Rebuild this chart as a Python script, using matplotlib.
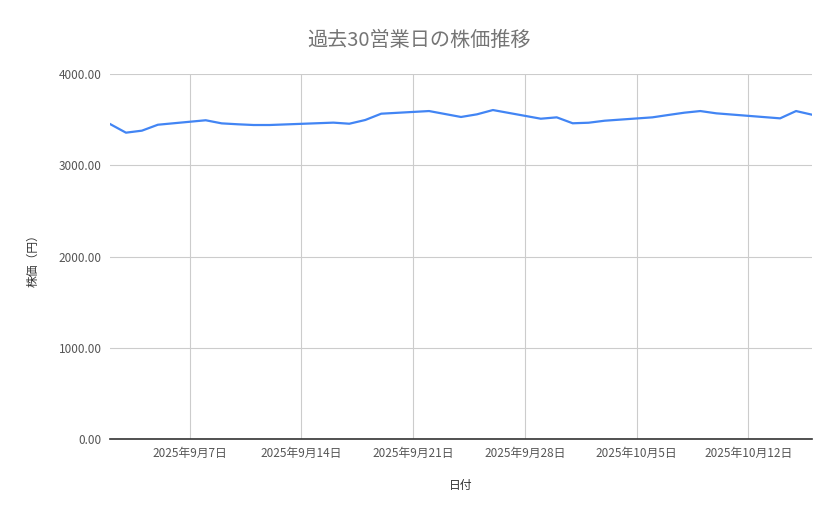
import matplotlib
matplotlib.use("Agg")
import matplotlib.pyplot as plt
import matplotlib.dates as mdates
from matplotlib.ticker import FuncFormatter
import datetime as dt

plt.rcParams['font.family'] = ['Noto Sans CJK JP', 'DejaVu Sans']

dates = ["2025-09-02", "2025-09-03", "2025-09-04", "2025-09-05",
         "2025-09-08", "2025-09-09", "2025-09-10", "2025-09-11", "2025-09-12",
         "2025-09-16", "2025-09-17", "2025-09-18", "2025-09-19",
         "2025-09-22", "2025-09-24", "2025-09-25", "2025-09-26",
         "2025-09-29", "2025-09-30", "2025-10-01", "2025-10-02", "2025-10-03",
         "2025-10-06", "2025-10-07", "2025-10-08", "2025-10-09", "2025-10-10",
         "2025-10-14", "2025-10-15", "2025-10-16"]
prices = [3452, 3357, 3379, 3444,
          3493, 3459, 3449, 3441, 3441,
          3467, 3455, 3496, 3565,
          3594, 3529, 3558, 3605,
          3510, 3525, 3460, 3466, 3488,
          3525, 3551, 3576, 3594, 3569,
          3514, 3594, 3554]
y_ticks = [0, 1000, 2000, 3000, 4000]

title = "過去30営業日の株価推移"
xlabel = "日付"
ylabel = "株価（円）"

x = [dt.datetime.strptime(d, "%Y-%m-%d") for d in dates]

fig = plt.figure(figsize=(8.39, 5.19), dpi=100)
ax = fig.add_axes([110/839, 1-439/519, 702/839, 365/519])

ax.plot(x, prices, color="#4285F4", linewidth=1.6, zorder=3)

ax.set_xlim(dt.datetime(2025, 9, 2), dt.datetime(2025, 10, 16))
ax.set_ylim(0, 4000)
ax.set_yticks(y_ticks)
ax.yaxis.set_major_formatter(FuncFormatter(lambda v, p: f"{v:.2f}"))
ax.xaxis.set_major_locator(mdates.WeekdayLocator(byweekday=mdates.SU))
ax.xaxis.set_major_formatter(FuncFormatter(
    lambda v, p: (lambda d: f"{d.year}年{d.month}月{d.day}日")(mdates.num2date(v))))

ax.grid(True, color="#cccccc", linewidth=0.8, zorder=0)
for s in ["top", "right", "left"]:
    ax.spines[s].set_visible(False)
ax.spines["bottom"].set_color("#333333")
ax.spines["bottom"].set_linewidth(1.2)
ax.spines["bottom"].set_zorder(4)
ax.tick_params(axis="both", length=0, labelsize=8.5, labelcolor="#555555")
ax.tick_params(axis="x", pad=6)
ax.tick_params(axis="y", pad=6)

fig.text(0.5, 1-40/519, title, ha="center", va="center", fontsize=14.5, color="#757575")
fig.text(461/839, 1-486/519, xlabel, ha="center", va="center", fontsize=8.5, color="#333333")
fig.text(33/839, 1-258/519, ylabel, ha="center", va="center", fontsize=8.5, color="#333333", rotation=90)

fig.savefig("out.png", dpi=100, facecolor="white")
